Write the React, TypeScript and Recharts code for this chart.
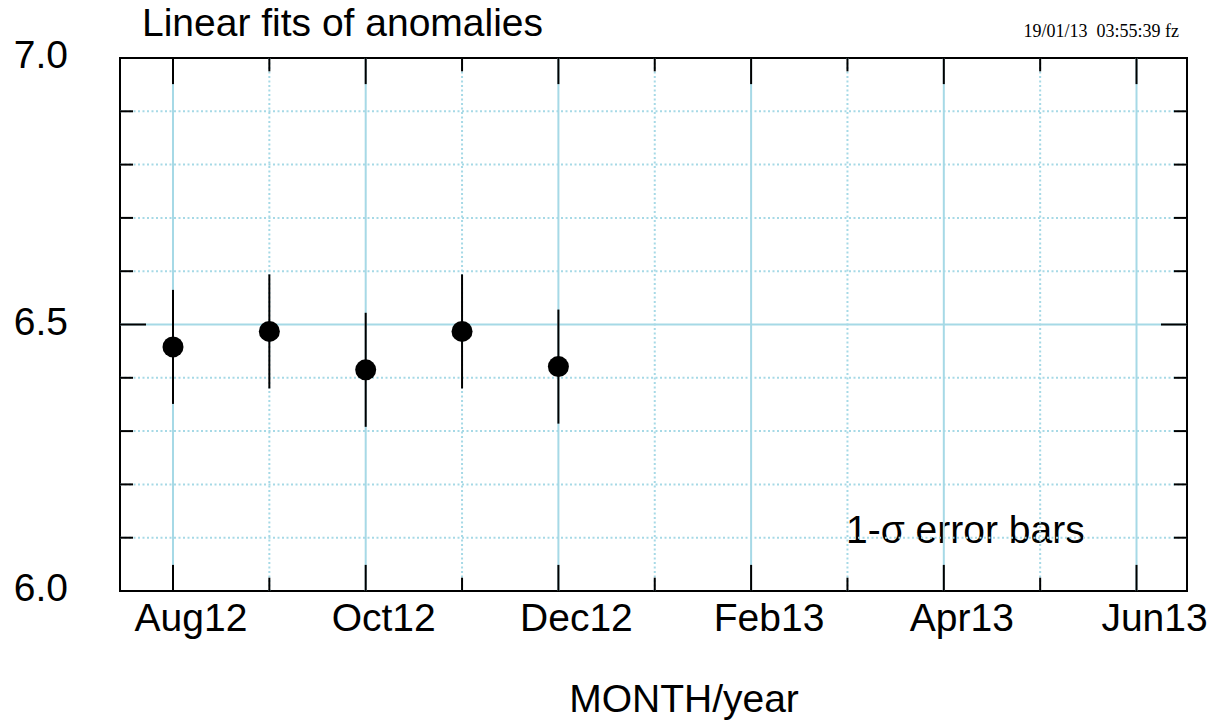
import React from 'react';
import {
  ComposedChart,
  Scatter,
  ErrorBar,
  XAxis,
  YAxis,
  ReferenceLine,
  ReferenceArea
} from 'recharts';

// month index: 0 = Aug12
const monthNames = ['Aug12', 'Sep12', 'Oct12', 'Nov12', 'Dec12'];
const monthIdx = [0, 1, 2, 3, 4];
const fitValues = [6.458, 6.487, 6.415, 6.487, 6.421];
const fitErrors = [0.107, 0.107, 0.107, 0.107, 0.107];

const xTickPos = [0, 2, 4, 6, 8, 10];
const xTickLabels = ['Aug12', 'Oct12', 'Dec12', 'Feb13', 'Apr13', 'Jun13'];
const xMinorPos = [1, 3, 5, 7, 9];
const yTicks = [6.0, 6.5, 7.0];
const yMinor = [6.1, 6.2, 6.3, 6.4, 6.6, 6.7, 6.8, 6.9];

const X_MIN = -0.55;
const X_MAX = 10.524;
const GRID = '#a6d9e6';
const FONT = '"Liberation Sans", Arial, Helvetica, sans-serif';

const data = monthIdx.map((m, i) => ({
  m,
  name: monthNames[i],
  v: fitValues[i],
  err: fitErrors[i]
}));

// tick mark lengths in data units (~26px major, ~13px minor)
const YT_MAJ = 0.049;
const YT_MIN = 0.025;
const XT_MAJ = 0.27;
const XT_MIN = 0.135;

const XTick = (props: any) => {
  const idx = xTickPos.indexOf(props.payload.value);
  return (
    <text x={props.x + 18} y={props.y + 40} textAnchor="middle" fontSize={39} fontFamily={FONT} fill="#000">
      {xTickLabels[idx]}
    </text>
  );
};

const YTick = (props: any) => (
  <text x={props.x - 52} y={props.y + 10} textAnchor="end" fontSize={39} fontFamily={FONT} fill="#000">
    {Number(props.payload.value).toFixed(1)}
  </text>
);

const Dot = (props: any) => <circle cx={props.cx} cy={props.cy} r={10.5} fill="#000" />;

export default function App() {
  const allMonths = [...xTickPos, ...xMinorPos];
  return (
    <div style={{ position: 'absolute', left: 0, top: 0, width: 1226, height: 727, background: '#fff' }}>
      <ComposedChart
        width={1226}
        height={727}
        data={data}
        margin={{ top: 58, right: 39, bottom: 0, left: 0 }}
      >
        <XAxis
          type="number"
          dataKey="m"
          domain={[X_MIN, X_MAX]}
          ticks={xTickPos}
          allowDataOverflow
          height={136}
          axisLine={false}
          tickLine={false}
          tickSize={0}
          tickMargin={0}
          tick={<XTick />}
          interval={0}
        />
        <YAxis
          type="number"
          domain={[6, 7]}
          ticks={yTicks}
          allowDataOverflow
          width={120}
          axisLine={false}
          tickLine={false}
          tickSize={0}
          tickMargin={0}
          tick={<YTick />}
          interval={0}
        />

        {/* grid */}
        {xMinorPos.map((m) => (
          <ReferenceLine key={`gxm-${m}`} x={m} stroke={GRID} strokeWidth={2} strokeDasharray="2 2.5" />
        ))}
        {yMinor.map((y) => (
          <ReferenceLine key={`gym-${y}`} y={y} stroke={GRID} strokeWidth={2} strokeDasharray="2 2.5" />
        ))}
        {xTickPos.map((m) => (
          <ReferenceLine key={`gx-${m}`} x={m} stroke={GRID} strokeWidth={2} />
        ))}
        <ReferenceLine y={6.5} stroke={GRID} strokeWidth={2} />

        {/* inward tick marks on all four sides */}
        {allMonths.map((m) => {
          const len = xTickPos.includes(m) ? YT_MAJ : YT_MIN;
          return (
            <React.Fragment key={`tx-${m}`}>
              <ReferenceLine segment={[{ x: m, y: 6 }, { x: m, y: 6 + len }]} stroke="#000" strokeWidth={2} />
              <ReferenceLine segment={[{ x: m, y: 7 }, { x: m, y: 7 - len }]} stroke="#000" strokeWidth={2} />
            </React.Fragment>
          );
        })}
        {[...yTicks, ...yMinor].map((y) => {
          const len = yTicks.includes(y) ? XT_MAJ : XT_MIN;
          return (
            <React.Fragment key={`ty-${y}`}>
              <ReferenceLine segment={[{ x: X_MIN, y }, { x: X_MIN + len, y }]} stroke="#000" strokeWidth={2} />
              <ReferenceLine segment={[{ x: X_MAX, y }, { x: X_MAX - len, y }]} stroke="#000" strokeWidth={2} />
            </React.Fragment>
          );
        })}

        <ReferenceArea x1={X_MIN} x2={X_MAX} y1={6} y2={7} fill="none" fillOpacity={0} stroke="#000" strokeWidth={2} />

        <Scatter dataKey="v" shape={<Dot />} isAnimationActive={false}>
          <ErrorBar dataKey="err" direction="y" width={0} stroke="#000" strokeWidth={2} isAnimationActive={false} />
        </Scatter>

        <text x={142} y={36} fontSize={39} fontFamily={FONT} fill="#000">Linear fits of anomalies</text>
        <text x={1179} y={37} textAnchor="end" fontSize={18} fontFamily='"Liberation Serif", "Times New Roman", serif' fill="#000" style={{ whiteSpace: 'pre' }}>
          {'19/01/13  03:55:39 fz'}
        </text>
        <text x={846} y={543} fontSize={39} fontFamily={FONT} fill="#000">1-σ error bars</text>
        <text x={684} y={712} textAnchor="middle" fontSize={39} fontFamily={FONT} fill="#000">MONTH/year</text>
      </ComposedChart>
    </div>
  );
}
